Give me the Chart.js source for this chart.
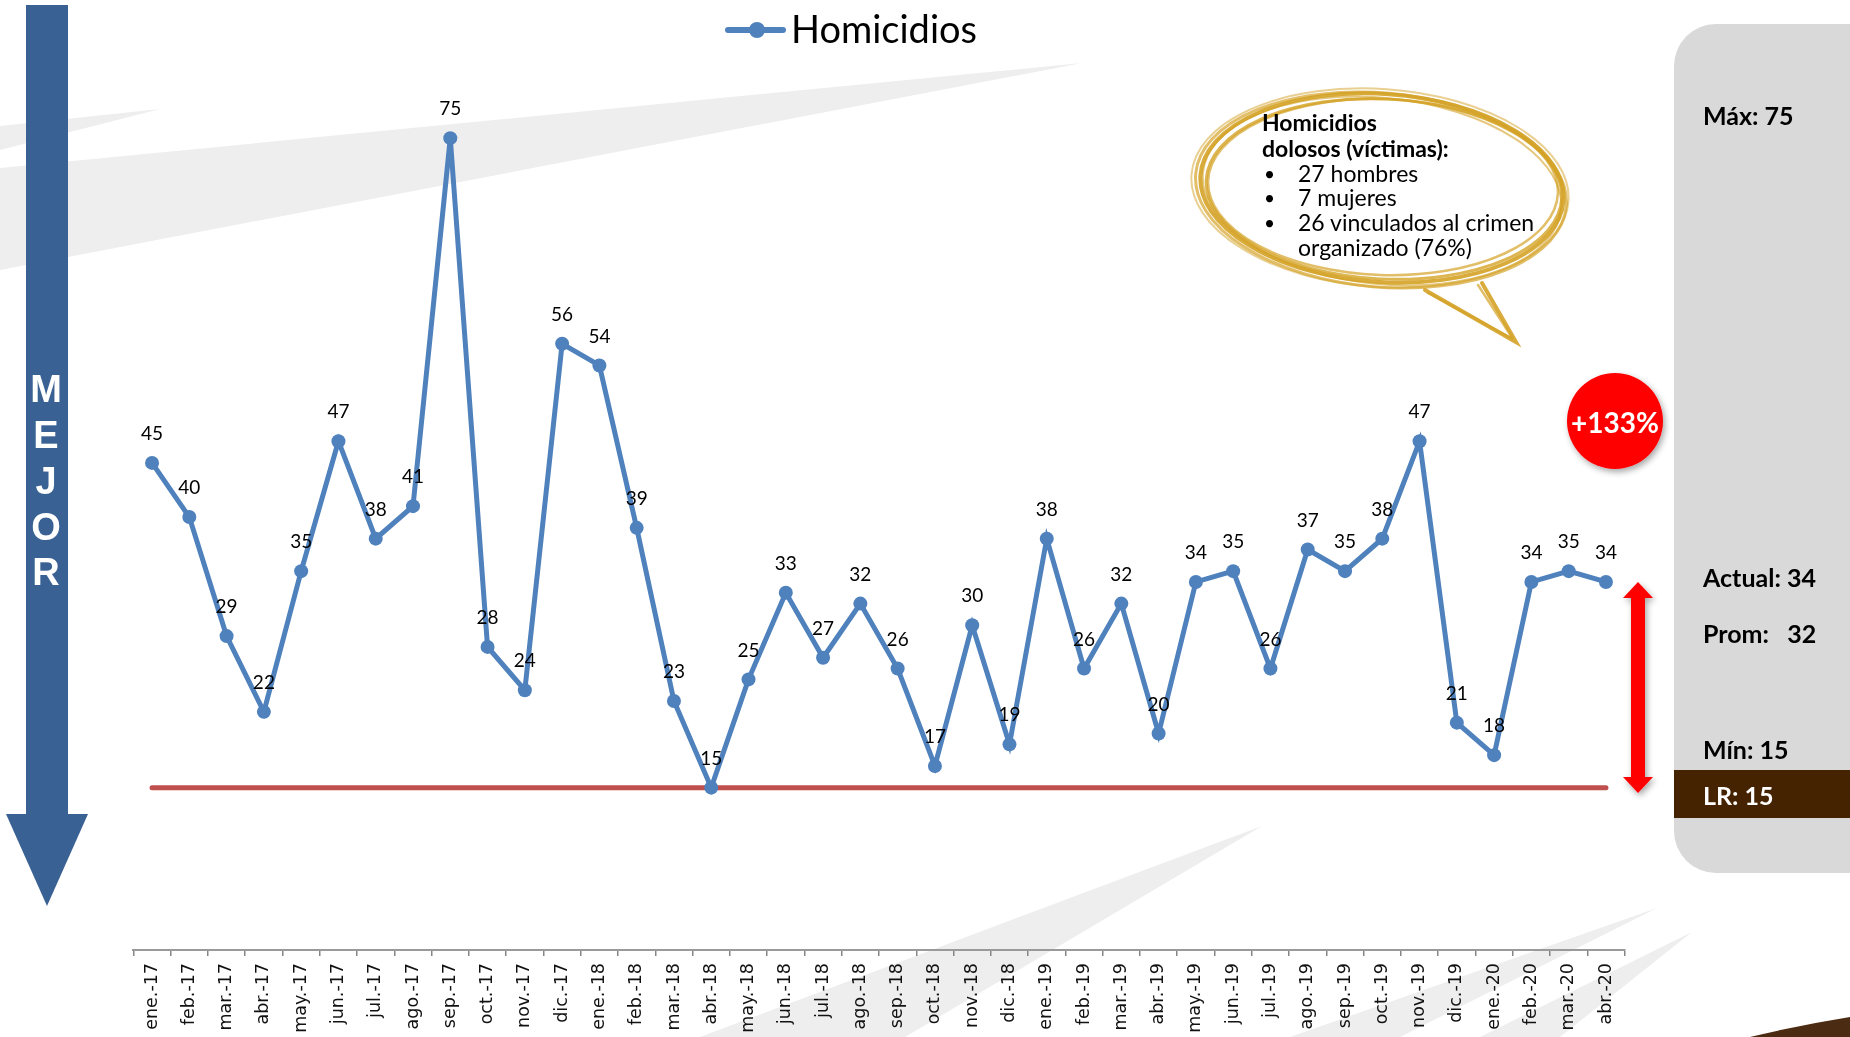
<!DOCTYPE html>
<html>
<head>
<meta charset="utf-8">
<script src="https://cdn.jsdelivr.net/npm/chart.js@4.4.1/dist/chart.umd.min.js"></script>
<style>
    html, body { margin: 0; padding: 0; background: #fff; }
    #wrap { position: relative; width: 1850px; height: 1037px; overflow: hidden; }
    #bg, #deco, #chart { position: absolute; left: 0; top: 0; }
</style>
</head>
<body>
<div id="wrap">
    <svg id="bg" width="1850" height="1037">
        <g fill="#EEEEEE">
            <polygon points="0,126 160,109 0,150"/>
            <polygon points="0,168 1082,63 0,270"/>
            <polygon points="1262,826 700,1037 905,1037"/>
            <polygon points="1657,908 1290,1037 1400,1037"/>
            <polygon points="1692,932 1480,1037 1560,1037"/>
        </g>
        <path d="M1750,1037 Q1800,1025 1850,1017 L1850,1037 Z" fill="#4B2B12"/>
    </svg>
    <canvas id="chart" width="1850" height="1037"></canvas>
    <svg id="deco" width="1850" height="1037">
        <defs>
            <filter id="shadow" x="-30%" y="-30%" width="160%" height="160%">
                <feDropShadow dx="2" dy="3" stdDeviation="3" flood-color="#000" flood-opacity="0.35"/>
            </filter>
        </defs>

        <!-- legend -->
        <line x1="728" y1="30" x2="783" y2="30" stroke="#4F81BD" stroke-width="6" stroke-linecap="round"/>
        <circle cx="757" cy="30" r="8" fill="#4F81BD"/>
        <text x="791" y="43" font-family="Lato" font-size="38" fill="#000">Homicidios</text>

        <!-- MEJOR arrow -->
        <rect x="26" y="5" width="42" height="809" fill="#3A6193"/>
        <polygon points="6,814 88,814 47,906" fill="#3A6193"/>
        <g font-family="Liberation Sans" font-weight="bold" font-size="38" fill="#fff" text-anchor="middle">
            <text x="46" y="402">M</text>
            <text x="46" y="448">E</text>
            <text x="46" y="494">J</text>
            <text x="46" y="540">O</text>
            <text x="46" y="585">R</text>
        </g>

        <!-- speech bubble -->
        <g fill="none" stroke="#D4A226" stroke-linecap="round">
            <ellipse cx="1382" cy="188" rx="182" ry="94" transform="rotate(4 1382 188)" stroke-width="4" opacity="0.9"/>
            <ellipse cx="1384" cy="189" rx="178" ry="90" transform="rotate(3 1384 189)" stroke-width="3" opacity="0.8"/>
            <ellipse cx="1381" cy="190" rx="186" ry="97" transform="rotate(5 1381 190)" stroke-width="3" opacity="0.7"/>
            <ellipse cx="1383" cy="187" rx="175" ry="88" transform="rotate(2 1383 187)" stroke-width="2.5" opacity="0.7"/>
            <ellipse cx="1382" cy="191" rx="180" ry="93" transform="rotate(6 1382 191)" stroke-width="2" opacity="0.6"/>
            <ellipse cx="1380" cy="188" rx="189" ry="99" transform="rotate(4 1380 188)" stroke-width="2" opacity="0.5"/>
            <path d="M1425,290 L1516,342 L1482,283" stroke-width="4" opacity="0.9"/>
            <path d="M1428,293 L1513,339 L1478,285" stroke-width="2.5" opacity="0.7"/>
        </g>
        <g font-family="Lato" font-size="23" fill="#000" dominant-baseline="central">
            <text x="1262" y="122" font-weight="bold">Homicidios</text>
            <text x="1262" y="148" font-weight="bold">dolosos (víctimas):</text>
            <text x="1264" y="173" font-size="19">•</text>
            <text x="1298" y="173">27 hombres</text>
            <text x="1264" y="197" font-size="19">•</text>
            <text x="1298" y="197">7 mujeres</text>
            <text x="1264" y="222" font-size="19">•</text>
            <text x="1298" y="222">26 vinculados al crimen</text>
            <text x="1298" y="247">organizado (76%)</text>
        </g>

        <!-- +133% badge -->
        <circle cx="1615" cy="421" r="48" fill="#FF0000" filter="url(#shadow)"/>
        <text x="1615" y="422" font-family="Lato" font-weight="bold" font-size="28" fill="#fff" text-anchor="middle" dominant-baseline="central">+133%</text>

        <!-- red double arrow -->
        <polygon points="1638,582 1653,598 1645,598 1645,777 1653,777 1638,793 1623,777 1631,777 1631,598 1623,598" fill="#FF0000" filter="url(#shadow)"/>

        <!-- right panel -->
        <rect x="1674" y="24" width="230" height="849" rx="42" fill="#D9D9D9"/>
        <rect x="1674" y="770" width="180" height="48" fill="#462300"/>
        <g font-family="Lato" font-weight="bold" font-size="25" dominant-baseline="central">
            <text x="1703" y="115" fill="#000">Máx: 75</text>
            <text x="1703" y="577" fill="#000">Actual: 34</text>
            <text x="1703" y="633" fill="#000" xml:space="preserve">Prom:   32</text>
            <text x="1703" y="749" fill="#000">Mín: 15</text>
            <text x="1703" y="795" fill="#fff">LR: 15</text>
        </g>
    </svg>
</div>
<script>
const months = [
    'ene.-17', 'feb.-17', 'mar.-17', 'abr.-17', 'may.-17', 'jun.-17', 'jul.-17', 'ago.-17', 'sep.-17', 'oct.-17', 'nov.-17', 'dic.-17',
    'ene.-18', 'feb.-18', 'mar.-18', 'abr.-18', 'may.-18', 'jun.-18', 'jul.-18', 'ago.-18', 'sep.-18', 'oct.-18', 'nov.-18', 'dic.-18',
    'ene.-19', 'feb.-19', 'mar.-19', 'abr.-19', 'may.-19', 'jun.-19', 'jul.-19', 'ago.-19', 'sep.-19', 'oct.-19', 'nov.-19', 'dic.-19',
    'ene.-20', 'feb.-20', 'mar.-20', 'abr.-20'
];

const homicidios = [
    45, 40, 29, 22, 35, 47, 38, 41, 75, 28, 24, 56,
    54, 39, 23, 15, 25, 33, 27, 32, 26, 17, 30, 19,
    38, 26, 32, 20, 34, 35, 26, 37, 35, 38, 47, 21,
    18, 34, 35, 34
];

// linea de referencia (LR)
const lineaRef = [
    15, 15, 15, 15, 15, 15, 15, 15, 15, 15, 15, 15,
    15, 15, 15, 15, 15, 15, 15, 15, 15, 15, 15, 15,
    15, 15, 15, 15, 15, 15, 15, 15, 15, 15, 15, 15,
    15, 15, 15, 15
];

const blue = '#4F81BD';
const red = '#C0504D';

// etiquetas encima de cada punto
const valueLabels = {
    id: 'valueLabels',
    afterDatasetsDraw(chart) {
        const ctx = chart.ctx;
        const meta = chart.getDatasetMeta(0);
        ctx.save();
        ctx.font = '19px Lato';
        ctx.fillStyle = '#000';
        ctx.textAlign = 'center';
        ctx.textBaseline = 'middle';
        meta.data.forEach((pt, i) => {
            ctx.fillText(String(homicidios[i]), pt.x, pt.y - 29);
        });
        ctx.restore();
    }
};

new Chart(document.getElementById('chart').getContext('2d'), {
    type: 'line',
    data: {
        labels: months,
        datasets: [
            {
                label: 'Homicidios',
                data: homicidios,
                borderColor: blue,
                backgroundColor: blue,
                borderWidth: 5,
                pointRadius: 7,
                pointBackgroundColor: blue,
                pointBorderWidth: 0,
                tension: 0
            },
            {
                label: 'LR',
                data: lineaRef,
                borderColor: red,
                borderWidth: 5,
                borderCapStyle: 'round',
                pointRadius: 0,
                tension: 0
            }
        ]
    },
    options: {
        responsive: false,
        animation: false,
        devicePixelRatio: 1,
        layout: { padding: { left: 133.4, right: 225.4, top: 84, bottom: 0 } },
        plugins: {
            legend: { display: false },
            tooltip: { enabled: false }
        },
        scales: {
            x: {
                offset: true,
                afterFit: (scale) => { scale.height = 87; },
                grid: {
                    offset: true,
                    drawOnChartArea: false,
                    drawTicks: true,
                    tickLength: 6,
                    color: '#868686',
                    lineWidth: 1.5
                },
                border: { display: true, color: '#9A9A9A', width: 2 },
                ticks: {
                    autoSkip: false,
                    minRotation: 90,
                    maxRotation: 90,
                    padding: 7,
                    color: '#111',
                    font: { family: 'DejaVu Sans', size: 17.5 }
                }
            },
            y: {
                display: false,
                min: 0,
                max: 80
            }
        }
    },
    plugins: [valueLabels]
});
</script>
</body>
</html>
